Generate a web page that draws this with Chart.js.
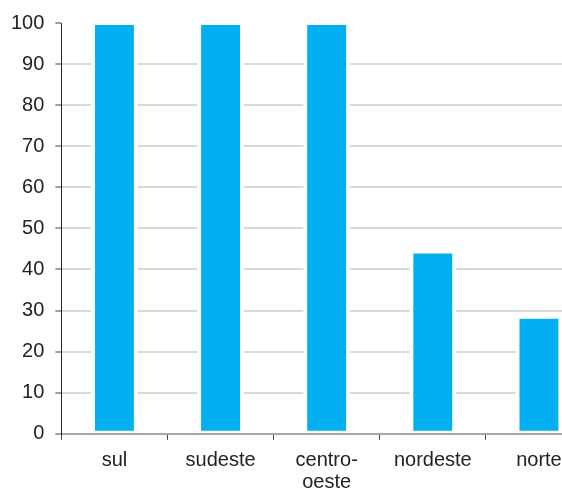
<!DOCTYPE html>
<html>
<head>
<meta charset="utf-8">
<script src="https://cdn.jsdelivr.net/npm/chart.js@4"></script>
<style>
  html, body { margin: 0; padding: 0; background: #fff; overflow: hidden; }
  #wrap { width: 600px; height: 503px; }
</style>
</head>
<body>
<div id="wrap"><canvas id="chartCanvas"></canvas></div>
<script>
const categories = ['sul', 'sudeste', ['centro-', 'oeste'], 'nordeste', 'norte'];
const values = [100, 100, 100, 44.4, 28.5];
const yTicks = [0, 10, 20, 30, 40, 50, 60, 70, 80, 90, 100];

const ctx = document.getElementById('chartCanvas');

new Chart(ctx, {
    type: 'bar',
    data: {
        labels: categories,
        datasets: [{
            data: values,
            backgroundColor: '#00B0F0',
            borderColor: '#ffffff',
            borderWidth: {top: 2, left: 4, right: 4, bottom: 2},
            borderSkipped: false,
            categoryPercentage: 1,
            barPercentage: 0.442,
            clip: false
        }]
    },
    options: {
        responsive: true,
        maintainAspectRatio: false,
        animation: false,
        layout: {
            padding: {top: 14, right: 8, left: 0, bottom: 0}
        },
        plugins: {
            legend: {display: false},
            tooltip: {enabled: false}
        },
        scales: {
            x: {
                offset: true,
                grid: {
                    offset: true,
                    drawOnChartArea: false,
                    tickLength: 6,
                    tickColor: '#404040'
                },
                border: {color: '#a6a6a6', width: 2},
                ticks: {
                    color: '#222',
                    padding: 9,
                    font: {family: 'Liberation Sans', size: 20, lineHeight: 1.13},
                    maxRotation: 0,
                    autoSkip: false
                }
            },
            y: {
                min: 0,
                max: 100,
                afterBuildTicks: axis => {
                    axis.ticks = yTicks.map(v => ({value: v}));
                },
                grid: {
                    color: c => (c.tick && (c.tick.value === 100 || c.tick.value === 0)) ? 'rgba(0,0,0,0)' : '#d9d9d9',
                    lineWidth: 2,
                    tickLength: 6,
                    tickColor: '#404040',
                    tickWidth: 1
                },
                border: {color: '#262626', width: 1},
                ticks: {
                    color: '#222',
                    padding: 11,
                    font: {family: 'Liberation Sans', size: 20}
                }
            }
        }
    }
});
</script>
</body>
</html>
